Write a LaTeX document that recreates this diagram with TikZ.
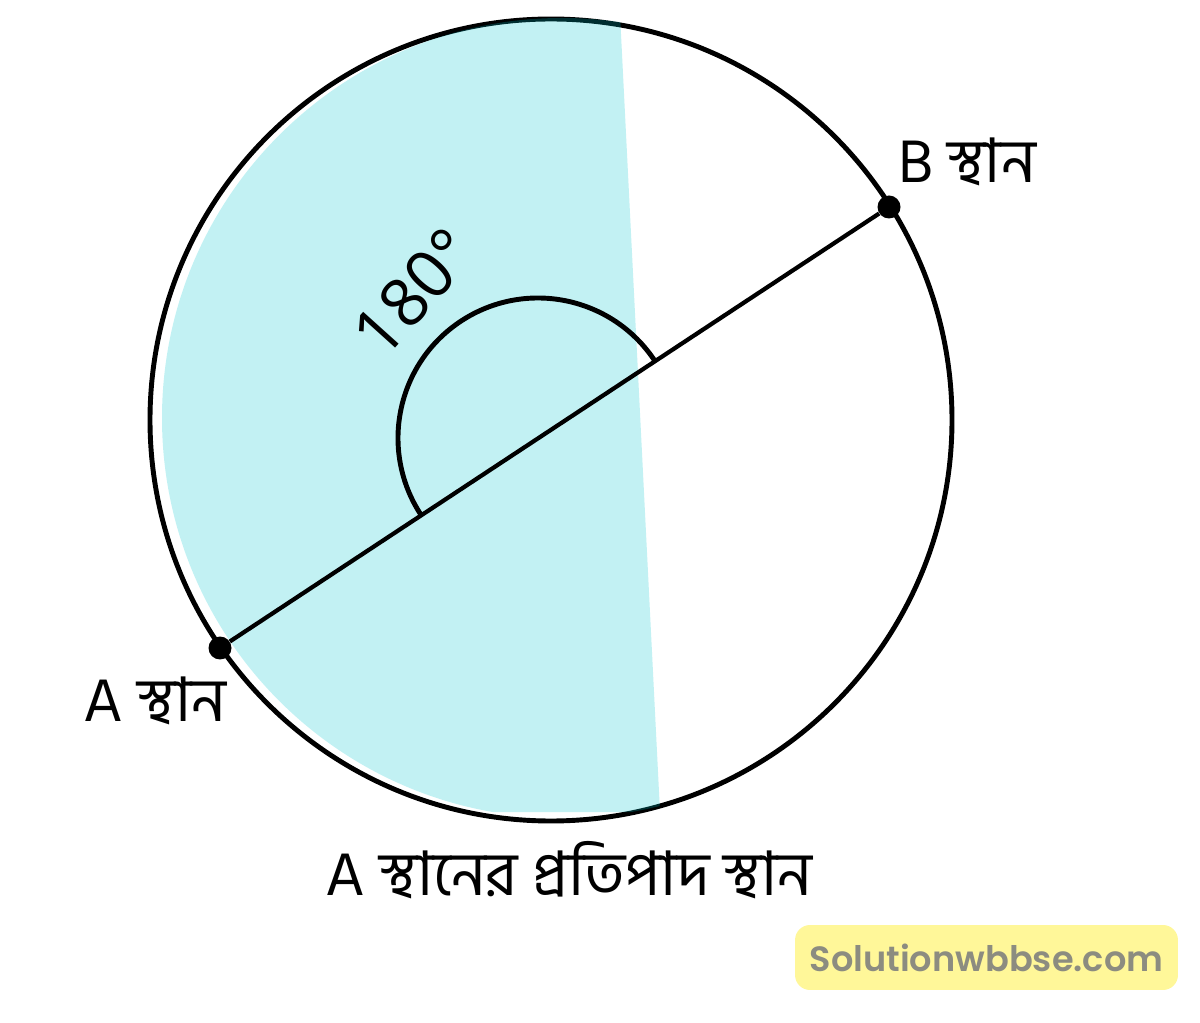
\documentclass[tikz,border=0pt]{standalone}
\usepackage{fontspec}
\usepackage{tikz}
\usetikzlibrary{calc}
\newfontfamily\bnfont[Script=Bengali]{Hind Siliguri}
\newfontfamily\numfont{Open Sans}
\newfontfamily\markfont{Poppins SemiBold}
\definecolor{seacyan}{RGB}{0,196,204}
\definecolor{markbox}{RGB}{255,247,153}
\definecolor{marktext}{RGB}{140,140,128}

\begin{document}
\begin{tikzpicture}[x=0.02cm,y=-0.02cm,
    label/.style={font=\bnfont\fontsize{35}{40}\selectfont,inner sep=0pt},
    place/.style={circle,fill=black,inner sep=0pt,minimum size=0.46cm}]
        \useasboundingbox (0,0) rectangle (1200,1023);
        \coordinate (o) at (551,420);
        \coordinate (c) at (538,438);
        % the circle and the shaded half
        \draw[line width=2.8pt] (o) circle (401);
        \begin{scope}
          \clip (100,14) -- (620,14) -- (660,812) -- (100,812) -- cycle;
          \fill[seacyan,opacity=0.24] (562,418) circle (400);
        \end{scope}
        \begin{scope}[every node/.style={place}]
          \node (a) at (220,648) {};
          \node (b) at (889,207) {};
        \end{scope}
        \draw[line width=2.4pt] (a) -- (b);
        \draw[line width=2.8pt] ($(c)+(-33.4:140)$) arc[start angle=-33.4,end angle=-213.4,radius=140];
        \begin{scope}[every node/.style={label}]
          \node (lb) at (967,162) {B স্থান};
          \node (la) at (155,701) {A স্থান};
          \node (lc) at (569,870) {A স্থানের প্রতিপাদ স্থান};
          \node[rotate=48,font=\numfont\fontsize{38}{42}\selectfont] (ang) at (414,292) {180°};
        \end{scope}
        \node[fill=markbox,rounded corners=0.3cm,minimum width=7.66cm,minimum height=1.3cm,
          text=marktext,font=\markfont\fontsize{20}{24}\selectfont] (wm) at (986.5,957.5) {Solutionwbbse.com};
      \end{tikzpicture}
\end{document}
